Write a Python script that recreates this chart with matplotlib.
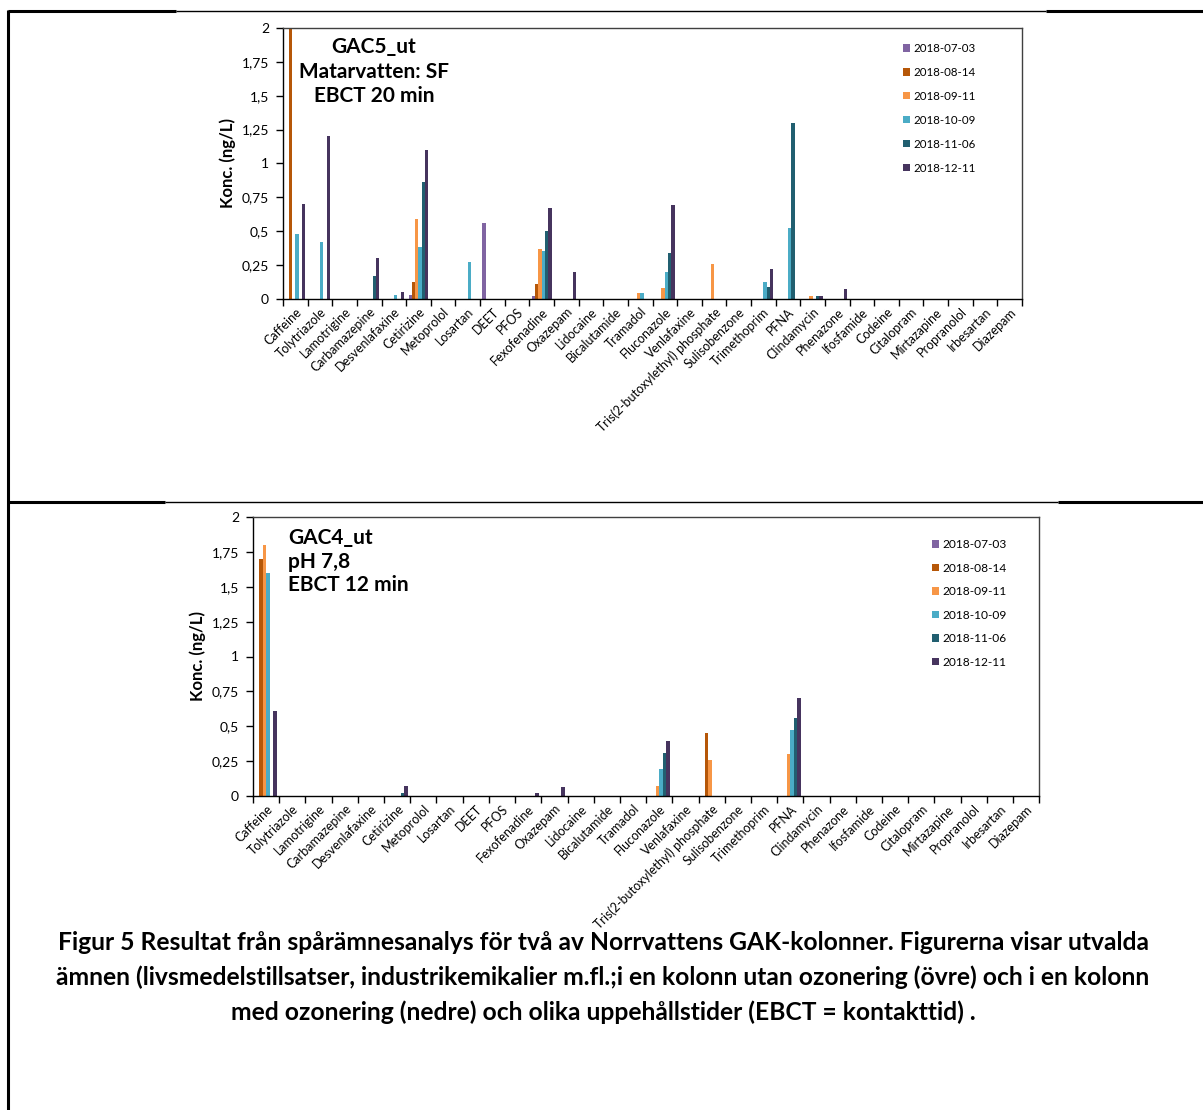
import numpy as np
import matplotlib
matplotlib.use("Agg")
import matplotlib.pyplot as plt
from matplotlib.ticker import FixedLocator

plt.rcParams['font.family'] = ['Lato', 'DejaVu Sans']

# Compounds on the x axis (same order in both panels)
compounds = ['Caffeine', 'Tolytriazole', 'Lamotrigine', 'Carbamazepine', 'Desvenlafaxine',
             'Cetirizine', 'Metoprolol', 'Losartan', 'DEET', 'PFOS', 'Fexofenadine',
             'Oxazepam', 'Lidocaine', 'Bicalutamide', 'Tramadol', 'Fluconazole',
             'Venlafaxine', 'Tris(2-butoxylethyl) phosphate', 'Sulisobenzone',
             'Trimethoprim', 'PFNA', 'Clindamycin', 'Phenazone', 'Ifosfamide', 'Codeine',
             'Citalopram', 'Mirtazapine', 'Propranolol', 'Irbesartan', 'Diazepam']

dates = ['2018-07-03', '2018-08-14', '2018-09-11', '2018-10-09', '2018-11-06', '2018-12-11']
colors = ['#8064A2', '#B65708', '#F79646', '#4BACC6', '#215F70', '#46345E']

# Upper panel: GAC5_ut (ng/L)
#           Caf   Tol   Lam Carb  Desv  Cet   Met Los   DEET PFOS Fex   Oxa   Lid Bic Tram  Flu   Ven Tris  Sul Trim  PFNA  Cli   Phen  Ifo Cod Cit Mir Pro Irb Dia
gac5_0703 = [0,    0,    0,  0,    0,    0.03, 0,  0,    0.56, 0,  0.02, 0,    0,  0,  0,    0,    0,  0,    0,  0,    0,    0,    0,    0,  0,  0,  0,  0,  0,  0]
gac5_0814 = [2.0,  0,    0,  0,    0,    0.12, 0,  0,    0,    0,  0.11, 0,    0,  0,  0,    0,    0,  0,    0,  0,    0,    0,    0,    0,  0,  0,  0,  0,  0,  0]
gac5_0911 = [0,    0,    0,  0,    0,    0.59, 0,  0,    0,    0,  0.37, 0,    0,  0,  0.04, 0.08, 0,  0.26, 0,  0,    0,    0.02, 0,    0,  0,  0,  0,  0,  0,  0]
gac5_1009 = [0.48, 0.42, 0,  0,    0.03, 0.38, 0,  0.27, 0,    0,  0.35, 0,    0,  0,  0.04, 0.20, 0,  0,    0,  0.12, 0.52, 0,    0,    0,  0,  0,  0,  0,  0,  0]
gac5_1106 = [0,    0,    0,  0.17, 0,    0.86, 0,  0,    0,    0,  0.50, 0,    0,  0,  0,    0.34, 0,  0,    0,  0.09, 1.30, 0.02, 0,    0,  0,  0,  0,  0,  0,  0]
gac5_1211 = [0.70, 1.20, 0,  0.30, 0.05, 1.10, 0,  0,    0,    0,  0.67, 0.20, 0,  0,  0,    0.69, 0,  0,    0,  0.22, 0,    0.02, 0.07, 0,  0,  0,  0,  0,  0,  0]

# Lower panel: GAC4_ut (ng/L)
gac4_0703 = [0,    0,    0,  0,    0,    0,    0,  0,    0,    0,  0,    0,    0,  0,  0,    0,    0,  0,    0,  0,    0,    0,    0,    0,  0,  0,  0,  0,  0,  0]
gac4_0814 = [1.70, 0,    0,  0,    0,    0,    0,  0,    0,    0,  0,    0,    0,  0,  0,    0,    0,  0.45, 0,  0,    0,    0,    0,    0,  0,  0,  0,  0,  0,  0]
gac4_0911 = [1.80, 0,    0,  0,    0,    0,    0,  0,    0,    0,  0,    0,    0,  0,  0,    0.07, 0,  0.26, 0,  0,    0.30, 0,    0,    0,  0,  0,  0,  0,  0,  0]
gac4_1009 = [1.60, 0,    0,  0,    0,    0,    0,  0,    0,    0,  0,    0,    0,  0,  0,    0.19, 0,  0,    0,  0,    0.47, 0,    0,    0,  0,  0,  0,  0,  0,  0]
gac4_1106 = [0,    0,    0,  0,    0,    0.02, 0,  0,    0,    0,  0,    0,    0,  0,  0,    0.31, 0,  0,    0,  0,    0.56, 0,    0,    0,  0,  0,  0,  0,  0,  0]
gac4_1211 = [0.61, 0,    0,  0,    0,    0.07, 0,  0,    0,    0,  0.02, 0.06, 0,  0,  0,    0.39, 0,  0,    0,  0,    0.70, 0,    0,    0,  0,  0,  0,  0,  0,  0]

yticks = [0, 0.25, 0.5, 0.75, 1, 1.25, 1.5, 1.75, 2]

W, H = 1203, 1110
fig = plt.figure(figsize=(W / 100, H / 100), dpi=100)

# background layer in pixel coordinates for the document frame and caption
bg = fig.add_axes([0, 0, 1, 1], zorder=-5)
bg.set_xlim(0, W)
bg.set_ylim(H, 0)
bg.axis('off')


def px_axes(left, top, right, bottom):
    return fig.add_axes([left / W, 1 - bottom / H, (right - left) / W, (bottom - top) / H])


def px_text(x, y, s, **kw):
    fig.text(x / W, 1 - y / H, s, **kw)


def draw_panel(ax, series):
    x = np.arange(len(compounds))
    w = 0.135
    for i, (vals, c, d) in enumerate(zip(series, colors, dates)):
        ax.bar(x + (i - 2.5) * w, vals, width=w, color=c, label=d, linewidth=0)
    ax.set_xlim(-0.5, len(compounds) - 0.5)
    ax.set_ylim(0, 2)
    ax.set_yticks(yticks)
    ax.set_yticklabels([f"{v:g}".replace('.', ',') for v in yticks], fontsize=10)
    ax.set_xticks(x)
    ax.set_xticklabels(compounds, rotation=45, ha='right', va='top',
                       rotation_mode='anchor', fontsize=9)
    ax.xaxis.set_minor_locator(FixedLocator(np.arange(len(compounds) + 1) - 0.5))
    ax.tick_params(axis='x', which='major', length=0, pad=5)
    ax.tick_params(axis='x', which='minor', length=5, width=1, direction='out')
    ax.tick_params(axis='y', length=5, width=1, direction='out', pad=5)
    for s in ['top', 'right']:
        ax.spines[s].set_color('#404040')
        ax.spines[s].set_linewidth(1)
    for s in ['left', 'bottom']:
        ax.spines[s].set_color('black')
        ax.spines[s].set_linewidth(1)


# upper chart
ax1 = px_axes(283, 28, 1022, 298.7)
draw_panel(ax1, [gac5_0703, gac5_0814, gac5_0911, gac5_1009, gac5_1106, gac5_1211])
ax1.set_ylabel('Konc. (ng/L)', fontsize=12, fontweight='bold', labelpad=4)
for txt, yy in zip(['GAC5_ut', 'Matarvatten: SF', 'EBCT 20 min'], [47, 72, 96]):
    px_text(374, yy, txt, ha='center', va='center', fontsize=15, fontweight='bold')
ax1.legend(loc='upper left', bbox_to_anchor=(903 / W, 1 - 43 / H), bbox_transform=fig.transFigure,
           frameon=False, fontsize=8.3, handlelength=0.6, handleheight=0.6, handletextpad=0.3,
           labelspacing=1.12, borderpad=0, borderaxespad=0)

# lower chart
ax2 = px_axes(253, 517.3, 1039.3, 795.7)
draw_panel(ax2, [gac4_0703, gac4_0814, gac4_0911, gac4_1009, gac4_1106, gac4_1211])
ax2.set_ylabel('Konc. (ng/L)', fontsize=12, fontweight='bold', labelpad=4)
for txt, yy in zip(['GAC4_ut', 'pH 7,8', 'EBCT 12 min'], [538, 562, 585]):
    px_text(288, yy, txt, ha='left', va='center', fontsize=15, fontweight='bold')
ax2.legend(loc='upper left', bbox_to_anchor=(932 / W, 1 - 539 / H), bbox_transform=fig.transFigure,
           frameon=False, fontsize=8.6, handlelength=0.6, handleheight=0.6, handletextpad=0.3,
           labelspacing=1.05, borderpad=0, borderaxespad=0)

# document table borders
bg.plot([8, 8], [10, H], color='black', lw=2.2, solid_capstyle='butt')
bg.plot([8, 176], [11, 11], color='black', lw=2.2, solid_capstyle='butt')
bg.plot([176, 1046], [11, 11], color='black', lw=1, solid_capstyle='butt')
bg.plot([1046, W], [11, 11], color='black', lw=2.2, solid_capstyle='butt')
bg.plot([8, 165], [502, 502], color='black', lw=2.2, solid_capstyle='butt')
bg.plot([165, 1058], [502, 502], color='black', lw=1, solid_capstyle='butt')
bg.plot([1058, W], [502, 502], color='black', lw=2.2, solid_capstyle='butt')

caption = ['Figur 5 Resultat från spårämnesanalys för två av Norrvattens GAK-kolonner. Figurerna visar utvalda',
           'ämnen (livsmedelstillsatser, industrikemikalier m.fl.;i en kolonn utan ozonering (övre) och i en kolonn',
           'med ozonering (nedre) och olika uppehållstider (EBCT = kontakttid) .']
for txt, yy in zip(caption, [942, 977, 1012]):
    bg.text(603, yy, txt, ha='center', va='center', fontsize=17.7, fontweight='bold')

fig.savefig('out.png', dpi=100)
